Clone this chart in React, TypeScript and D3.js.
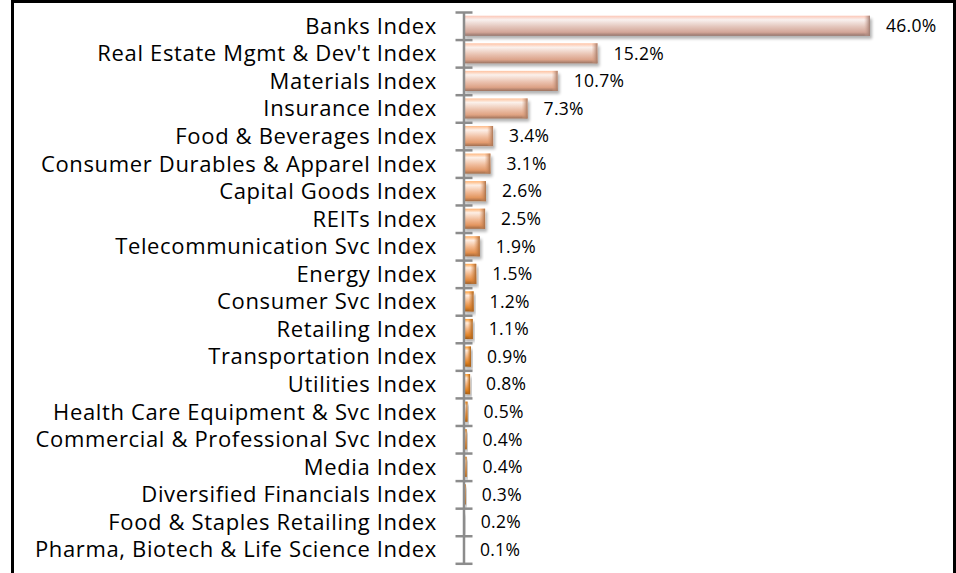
import React, { useEffect, useRef } from 'react'
import * as d3 from 'd3'

const categories = [
  'Banks Index',
  "Real Estate Mgmt & Dev't Index",
  'Materials Index',
  'Insurance Index',
  'Food & Beverages Index',
  'Consumer Durables & Apparel Index',
  'Capital Goods Index',
  'REITs Index',
  'Telecommunication Svc Index',
  'Energy Index',
  'Consumer Svc Index',
  'Retailing Index',
  'Transportation Index',
  'Utilities Index',
  'Health Care Equipment & Svc Index',
  'Commercial & Professional Svc Index',
  'Media Index',
  'Diversified Financials Index',
  'Food & Staples Retailing Index',
  'Pharma, Biotech & Life Science Index',
]

const shares = [46.0, 15.2, 10.7, 7.3, 3.4, 3.1, 2.6, 2.5, 1.9, 1.5, 1.2, 1.1, 0.9, 0.8, 0.5, 0.4, 0.4, 0.3, 0.2, 0.1]

const W = 956
const H = 573

export default function App() {
  const ref = useRef<SVGSVGElement>(null)

  useEffect(() => {
    const svg = d3.select(ref.current)
    svg.selectAll('*').remove()

    const top = 12
    const bottom = 563.3
    const axisX = 463.5

    const x = d3.scaleLinear().domain([0, 46]).range([463, 870])
    const y = d3.scaleBand<string>()
      .domain(categories)
      .range([top, bottom])
      .paddingInner(0.27)
      .paddingOuter(0.135)
    const edges = d3.scaleLinear().domain([0, categories.length]).range([top, bottom])

    // colour: orange for the small ones, pinkish for the big ones
    const color = d3.scaleLog<string>()
      .domain([1, 4, 46])
      .range(['#e0801e', '#e3a07a', '#d3a698'])
      .interpolate(d3.interpolateLab)
      .clamp(true)

    const defs = svg.append('defs')

    const shadow = defs.append('filter').attr('id', 'shadow')
      .attr('x', '-10%').attr('y', '-30%').attr('width', '130%').attr('height', '180%')
    shadow.append('feGaussianBlur').attr('in', 'SourceAlpha').attr('stdDeviation', 1.5)
    shadow.append('feOffset').attr('dx', 1.5).attr('dy', 2.5).attr('result', 'off')
    shadow.append('feComponentTransfer').append('feFuncA').attr('type', 'linear').attr('slope', 0.3)
    const merge = shadow.append('feMerge')
    merge.append('feMergeNode')
    merge.append('feMergeNode').attr('in', 'SourceGraphic')

    shares.forEach((v, i) => {
      const c = d3.color(color(v))!
      const g = defs.append('linearGradient').attr('id', `bar${i}`)
        .attr('x1', 0).attr('x2', 0).attr('y1', 0).attr('y2', 1)
      g.append('stop').attr('offset', '0%').attr('stop-color', c.brighter(0.5).formatHex())
      g.append('stop').attr('offset', '20%').attr('stop-color', d3.interpolateLab(c.formatHex(), '#ffffff')(0.85))
      g.append('stop').attr('offset', '55%').attr('stop-color', d3.interpolateLab(c.formatHex(), '#ffffff')(0.35))
      g.append('stop').attr('offset', '82%').attr('stop-color', c.formatHex())
      g.append('stop').attr('offset', '100%').attr('stop-color', c.darker(1).formatHex())

      const e = defs.append('linearGradient').attr('id', `end${i}`)
        .attr('x1', 0).attr('x2', 1).attr('y1', 0).attr('y2', 0)
      e.append('stop').attr('offset', '0%').attr('stop-color', c.formatHex()).attr('stop-opacity', 0)
      e.append('stop').attr('offset', '100%').attr('stop-color', c.darker(0.8).formatHex())
    })

    // frame
    svg.append('path')
      .attr('d', `M12.5,${H} V1.5 H954.5 V${H}`)
      .attr('fill', 'none')
      .attr('stroke', '#000')
      .attr('stroke-width', 3)

    // bars
    const bars = svg.append('g')
    categories.forEach((cat, i) => {
      const v = shares[i]
      const x0 = x(0)
      const w = Math.max(x(v) - x0, 1)
      const yy = y(cat)!
      const h = y.bandwidth()
      bars.append('rect')
        .attr('x', x0).attr('y', yy).attr('width', w).attr('height', h)
        .attr('fill', `url(#bar${i})`)
        .attr('filter', 'url(#shadow)')
      const ew = Math.min(6, w / 2)
      bars.append('rect')
        .attr('x', x0 + w - ew).attr('y', yy).attr('width', ew).attr('height', h)
        .attr('fill', `url(#end${i})`)
    })

    // axis with crossing ticks on category boundaries
    const axis = svg.append('g')
      .attr('transform', `translate(${axisX},0)`)
      .call(d3.axisLeft(edges).tickValues(d3.range(categories.length + 1)).tickFormat(() => '').tickSizeOuter(0))
    axis.select('.domain').attr('stroke', '#8c8c8c').attr('stroke-width', 2.5)
    axis.selectAll('.tick line').attr('x1', 9).attr('x2', -8).attr('stroke', '#8c8c8c').attr('stroke-width', 2.5)

    // category labels
    svg.append('g')
      .selectAll('text')
      .data(categories)
      .join('text')
      .attr('x', 437)
      .attr('y', d => y(d)! + y.bandwidth() / 2)
      .attr('dy', '0.36em')
      .attr('text-anchor', 'end')
      .attr('font-family', '"Open Sans", sans-serif')
      .attr('font-size', 22)
      .attr('letter-spacing', 0.65)
      .attr('fill', '#000')
      .text(d => d)

    // value labels
    svg.append('g')
      .selectAll('text')
      .data(shares)
      .join('text')
      .attr('x', d => x(d) + 16)
      .attr('y', (d, i) => y(categories[i])! + y.bandwidth() / 2)
      .attr('dy', '0.36em')
      .attr('font-family', '"Open Sans", sans-serif')
      .attr('font-size', 17.5)
      .attr('letter-spacing', 0.3)
      .attr('fill', '#000')
      .text(d => d.toFixed(1) + '%')
  }, [])

  return (
    <svg
      ref={ref}
      width={W}
      height={H}
      style={{ position: 'absolute', left: 0, top: 0, background: '#fff' }}
    />
  )
}
